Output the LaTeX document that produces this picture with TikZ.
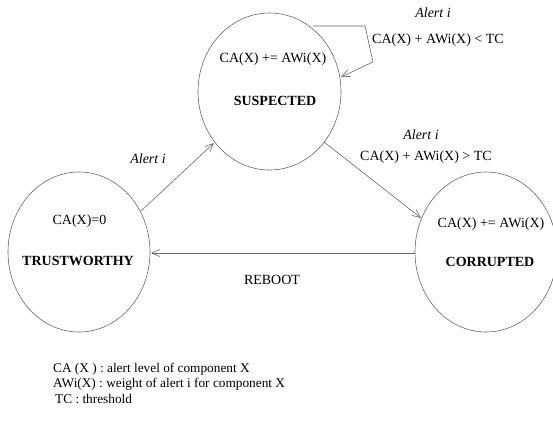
\documentclass[tikz,border=0pt]{standalone}
\usepackage{fontspec}
\setmainfont{Liberation Serif}
\usetikzlibrary{arrows.meta}
\begin{document}
\begin{tikzpicture}[x=1pt,y=-1pt,
  statebox/.style={draw=black!60, line width=0.6pt},
  conn/.style={draw=black!60, line width=0.6pt, -{Straight Barb[length=8pt,width=7pt]}},
  txt/.style={font=\fontsize{14}{16}\selectfont, inner sep=0pt},
  btxt/.style={font=\fontsize{14}{16}\selectfont\bfseries, inner sep=0pt},
  itxt/.style={font=\fontsize{14}{16}\selectfont\itshape, inner sep=0pt},
  leg/.style={font=\fontsize{13.3}{15}\selectfont, inner sep=0pt, anchor=west}]
\useasboundingbox (0,0) rectangle (553,421);
% states
\draw[statebox] (269.5,91.5) ellipse [x radius=71.5, y radius=78.5];
\draw[statebox] (79,252) ellipse [x radius=71, y radius=80];
\draw[statebox] (486,252) ellipse [x radius=71, y radius=80];
% state texts
\node[txt] (s1) at (273,59) {CA(X) += AWi(X)};
\node[btxt] (s2) at (275,101) {SUSPECTED};
\node[txt] (t1) at (79.5,221) {CA(X)=0};
\node[btxt] (t2) at (78,261) {TRUSTWORTHY};
\node[txt] (c1) at (491,224) {CA(X) += AWi(X)};
\node[btxt] (c2) at (490,262) {CORRUPTED};
% connectors
\coordinate (ts0) at (141,211);
\coordinate (ts1) at (214,143);
\draw[conn] (ts0) -- (ts1);
\coordinate (sc0) at (324,142);
\coordinate (sc1) at (421,218);
\draw[conn] (sc0) -- (sc1);
\coordinate (ct0) at (415,253);
\coordinate (ct1) at (151,253);
\draw[conn] (ct0) -- (ct1);
\coordinate (l0) at (313,26);
\coordinate (l1) at (365,26);
\coordinate (l2) at (373,62);
\coordinate (l3) at (341,77);
\draw[conn] (l0) -- (l1) -- (l2) -- (l3);
% labels
\node[itxt] (a1) at (148,159) {Alert i};
\node[itxt] (a2) at (421,135) {Alert i};
\node[txt] (g2) at (426,157) {CA(X) + AWi(X) > TC};
\node[itxt] (a3) at (433,13) {Alert i};
\node[txt] (g3) at (438,40) {CA(X) + AWi(X) < TC};
\node[txt] (rb) at (272,280) {REBOOT};
% legend
\node[leg] (L1) at (53,369) {CA (X ) : alert level of component X};
\node[leg] (L2) at (53,384) {AWi(X) : weight of alert i for component X};
\node[leg] (L3) at (55,399) {TC : threshold};
\end{tikzpicture}
\end{document}
